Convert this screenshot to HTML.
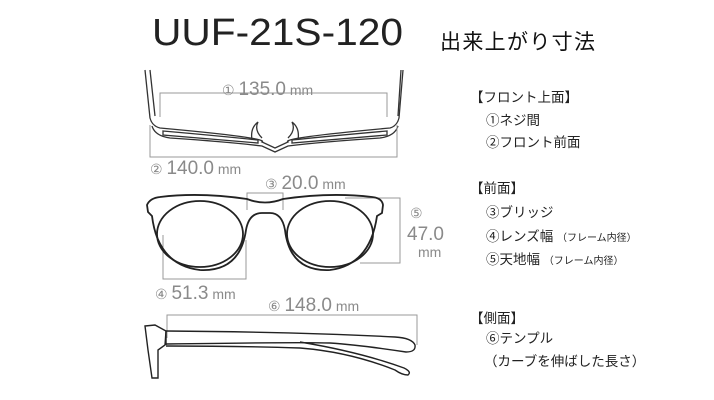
<!DOCTYPE html>
<html><head><meta charset="utf-8"><style>
html,body{margin:0;padding:0;background:#fff;}
svg{display:block;}
.g{fill:#8a8a8a;font-family:"Liberation Sans",sans-serif;}
.j{fill:#222;font-family:"Liberation Sans","Noto Sans CJK JP",sans-serif;font-size:13.5px;}
</style></head><body>
<svg width="714" height="400" viewBox="0 0 714 400" xmlns="http://www.w3.org/2000/svg">
<text x="152" y="45" font-family="Liberation Sans,sans-serif" font-size="38" fill="#222" textLength="251" lengthAdjust="spacingAndGlyphs">UUF-21S-120</text>
<text x="440" y="49" font-family="Liberation Sans,Noto Sans CJK JP,sans-serif" font-size="21" fill="#111" textLength="155">出来上がり寸法</text>

<!-- top view -->
<g fill="none" stroke="#333" stroke-width="1.3">
<path d="M145 70 L150 118 Q152 126 160 128 Q270 138 262 142 L275 148 L288 142 Q280 138 390 128 Q397 126 399 118 L403 70"/>
<path d="M150 70 L155 116 M398 116 L401 70"/>
<path d="M152 126 Q155 136 170 138 Q230 142 262 146 L275 152 L288 146 Q320 142 380 138 Q395 136 398 126"/>
<path d="M163 131 Q220 136 258 140 L258 143 Q220 140 163 135 Z"/>
<path d="M387 131 Q330 136 292 140 L292 143 Q330 140 387 135 Z"/>
<path d="M252 140 Q250 128 258 122 Q254 130 262 138"/>
<path d="M298 140 Q300 128 292 122 Q296 130 288 138"/>
</g>
<g fill="none" stroke="#999" stroke-width="1">
<path d="M160 117 V93 H387 V117"/>
<path d="M150 125 V157 H397 V125"/>
<path d="M247 210 V193 H283 V210"/>
<path d="M345 198 H400 V263 H360"/>
<path d="M163 235 V279 H246 V240"/>
<path d="M167 338 V315 H417 V345"/>
</g>
<text class="g" x="222" y="95" font-size="14">①  <tspan font-size="19">135.0</tspan>  mm</text>
<text class="g" x="150" y="174" font-size="14">②  <tspan font-size="19">140.0</tspan>  mm</text>
<text class="g" x="265" y="189" font-size="14">③ <tspan font-size="19">20.0</tspan>  mm</text>
<text class="g" x="410" y="218" font-size="14">⑤</text>
<text class="g" x="407" y="240" font-size="19">47.0</text>
<text class="g" x="418" y="257" font-size="14">mm</text>
<text class="g" x="155" y="299" font-size="14">④  <tspan font-size="19">51.3</tspan>  mm</text>
<text class="g" x="268" y="311" font-size="14">⑥ <tspan font-size="19">148.0</tspan>  mm</text>

<!-- front view -->
<g fill="none" stroke="#222" stroke-width="1.8">
<path d="M147 205 Q150 198 160 197 Q200 192 247 199 Q265 206 283 199 Q330 192 372 197 Q382 198 383 205 L382 213 L377 216 Q370 265 330 270 Q290 272 285 230 Q282 213 270 213 L262 213 Q249 213 246 230 Q240 272 200 270 Q158 265 152 216 L148 212 Z"/>
<ellipse cx="200" cy="234" rx="43" ry="33"/>
<ellipse cx="330" cy="234" rx="43" ry="33"/>
</g>
<!-- side view -->
<g fill="none" stroke="#222" stroke-width="1.4">
<path d="M145 326 L155 325 L166 331 L165 345 L158 350 L158 378 L152 378 L148 350 Z"/>
<path d="M166 331 L166 345"/>
<path d="M166 331 Q300 332 395 337 Q412 338 415 345 Q416 352 406 352 Q360 345 330 343 Q300 342 166 344"/>
<path d="M300 342 Q360 352 404 368 Q412 372 408 375 Q402 375 395 370 Q350 352 300 348 Q240 346 166 346"/>
</g>

<text class="j" x="470" y="102">【フロント上面】</text>
<text class="j" x="486" y="125">①ネジ間</text>
<text class="j" x="486" y="147">②フロント前面</text>
<text class="j" x="470" y="193">【前面】</text>
<text class="j" x="486" y="217">③ブリッジ</text>
<text class="j" x="486" y="241">④レンズ幅 <tspan font-size="10">（フレーム内径）</tspan></text>
<text class="j" x="486" y="264">⑤天地幅 <tspan font-size="10">（フレーム内径）</tspan></text>
<text class="j" x="470" y="323">【側面】</text>
<text class="j" x="486" y="343">⑥テンプル</text>
<text class="j" x="484" y="366" font-size="10">（カーブを伸ばした長さ）</text>
</svg>
</body></html>
